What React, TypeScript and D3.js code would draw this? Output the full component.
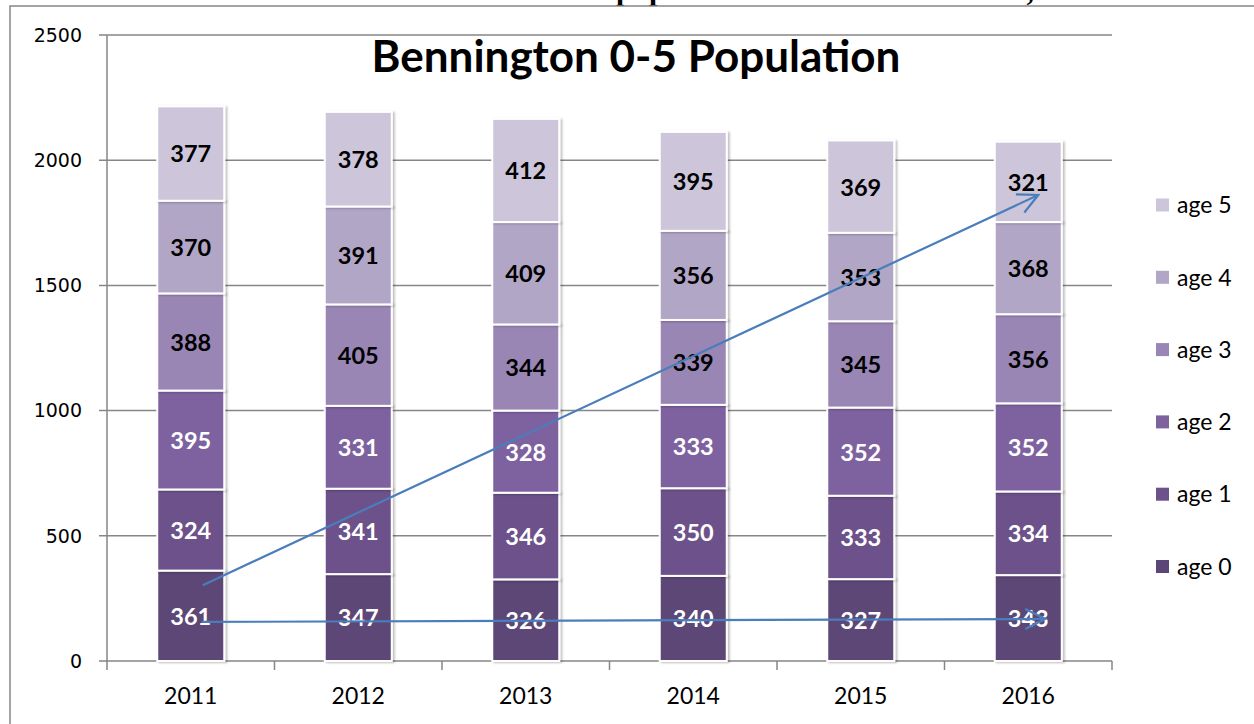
import * as d3 from "d3";
import { useEffect, useRef } from "react";

const years = ["2011", "2012", "2013", "2014", "2015", "2016"];
const age0 = [361, 347, 326, 340, 327, 343];
const age1 = [324, 341, 346, 350, 333, 334];
const age2 = [395, 331, 328, 333, 352, 352];
const age3 = [388, 405, 344, 339, 345, 356];
const age4 = [370, 391, 409, 356, 353, 368];
const age5 = [377, 378, 412, 395, 369, 321];
const seriesNames = ["age 0", "age 1", "age 2", "age 3", "age 4", "age 5"];
const seriesValues = [age0, age1, age2, age3, age4, age5];
const colors = ["#5c4677", "#6c518a", "#7e62a0", "#9a86b5", "#b2a6c7", "#cdc5da"];
const labelColors = ["#fff", "#fff", "#fff", "#000", "#000", "#000"];
const yTicks = [0, 500, 1000, 1500, 2000, 2500];

// hand-drawn arrows on top of the chart: [year, offset px, value]
const arrows = [
  { from: ["2011", 12, 303], to: ["2016", 10, 1861] },
  { from: ["2011", 11, 156], to: ["2016", 17, 168] },
];

const App = () => {
  const svgRef = useRef(null);

  useEffect(() => {
    const svg = d3.select(svgRef.current);
    svg.selectAll("*").remove();

    const x = d3
      .scaleBand()
      .domain(years)
      .range([107, 1112])
      .paddingInner(0.6)
      .paddingOuter(0.3);
    const y = d3.scaleLinear().domain([0, 2500]).range([661, 35]);

    const defs = svg.append("defs");
    defs
      .append("filter")
      .attr("id", "shadow")
      .attr("x", "-20%")
      .attr("y", "-20%")
      .attr("width", "140%")
      .attr("height", "140%")
      .append("feDropShadow")
      .attr("dx", 2)
      .attr("dy", 1)
      .attr("stdDeviation", 1.2)
      .attr("flood-color", "#000")
      .attr("flood-opacity", 0.25);
    defs
      .append("marker")
      .attr("id", "arrow")
      .attr("markerUnits", "userSpaceOnUse")
      .attr("viewBox", "0 0 24 24")
      .attr("refX", 22)
      .attr("refY", 12)
      .attr("markerWidth", 24)
      .attr("markerHeight", 24)
      .attr("orient", "auto")
      .append("path")
      .attr("d", "M2,2 L22,12 L2,22")
      .attr("fill", "none")
      .attr("stroke", "#4a7ebb")
      .attr("stroke-width", 2.2);

    // cut-off text from the page above
    svg
      .append("text")
      .attr("x", 616)
      .attr("y", 0)
      .attr("font-family", "Liberation Serif")
      .attr("font-weight", "bold")
      .attr("font-size", 30)
      .attr("textLength", 418)
      .text("population of the town in 2016,");

    // outer frame
    svg
      .append("rect")
      .attr("x", 10)
      .attr("y", 6)
      .attr("width", 1260)
      .attr("height", 740)
      .attr("fill", "#fff")
      .attr("stroke", "#868686")
      .attr("stroke-width", 1.5);

    // gridlines
    svg
      .append("g")
      .selectAll("line")
      .data(yTicks.filter((d) => d > 0))
      .enter()
      .append("line")
      .attr("x1", 99)
      .attr("x2", 1112)
      .attr("y1", (d) => y(d))
      .attr("y2", (d) => y(d))
      .attr("stroke", "#868686")
      .attr("stroke-width", 1.5);

    svg
      .append("g")
      .selectAll("text")
      .data(yTicks)
      .enter()
      .append("text")
      .attr("x", 82)
      .attr("y", (d) => y(d))
      .attr("dy", "0.36em")
      .attr("text-anchor", "end")
      .attr("font-family", "DejaVu Sans")
      .attr("font-size", 19)
      .attr("fill", "#000")
      .text((d) => d);

    // axes
    svg
      .append("line")
      .attr("x1", 107)
      .attr("x2", 107)
      .attr("y1", y(2500))
      .attr("y2", y(0))
      .attr("stroke", "#868686")
      .attr("stroke-width", 1.5);
    svg
      .append("line")
      .attr("x1", 99)
      .attr("x2", 1112)
      .attr("y1", y(0))
      .attr("y2", y(0))
      .attr("stroke", "#868686")
      .attr("stroke-width", 1.5);

    const bounds = years.map((d) => x(d) - (x.step() * x.paddingInner()) / 2);
    bounds.push(1112);
    svg
      .append("g")
      .selectAll("line")
      .data(bounds)
      .enter()
      .append("line")
      .attr("x1", (d) => d)
      .attr("x2", (d) => d)
      .attr("y1", y(0))
      .attr("y2", y(0) + 9)
      .attr("stroke", "#868686")
      .attr("stroke-width", 1.5);

    svg
      .append("g")
      .selectAll("text")
      .data(years)
      .enter()
      .append("text")
      .attr("x", (d) => x(d) + x.bandwidth() / 2)
      .attr("y", 704)
      .attr("text-anchor", "middle")
      .attr("font-family", "Lato")
      .attr("font-size", 23)
      .attr("fill", "#000")
      .text((d) => d);

    // stacked bars
    const table = years.map((yr, i) => {
      const row = { year: yr };
      seriesNames.forEach((s, k) => (row[s] = seriesValues[k][i]));
      return row;
    });
    const stacked = d3.stack().keys(seriesNames)(table);

    const layers = svg
      .append("g")
      .selectAll(".layer")
      .data(stacked)
      .enter()
      .append("g")
      .attr("class", "layer")
      .attr("fill", (d, i) => colors[i]);

    layers
      .selectAll("rect")
      .data((d) => d)
      .enter()
      .append("rect")
      .attr("x", (d) => x(d.data.year))
      .attr("y", (d) => y(d[1]))
      .attr("width", x.bandwidth())
      .attr("height", (d) => y(d[0]) - y(d[1]))
      .attr("stroke", "#fff")
      .attr("stroke-width", 2)
      .attr("filter", "url(#shadow)");

    layers
      .selectAll("text")
      .data((d, i) => d.map((p) => ({ p, i })))
      .enter()
      .append("text")
      .attr("x", (d) => x(d.p.data.year) + x.bandwidth() / 2)
      .attr("y", (d) => y((d.p[0] + d.p[1]) / 2))
      .attr("dy", "0.38em")
      .attr("text-anchor", "middle")
      .attr("font-family", "Lato")
      .attr("font-weight", "bold")
      .attr("font-size", 23.5)
      .attr("fill", (d) => labelColors[d.i])
      .text((d) => d.p[1] - d.p[0]);

    // title
    svg
      .append("text")
      .attr("x", 636)
      .attr("y", 72)
      .attr("text-anchor", "middle")
      .attr("font-family", "Lato")
      .attr("font-weight", "bold")
      .attr("font-size", 44)
      .attr("fill", "#000")
      .text("Bennington 0-5 Population");

    // legend
    const legend = svg
      .append("g")
      .selectAll("g")
      .data(seriesNames.slice().reverse())
      .enter()
      .append("g")
      .attr("transform", (d, i) => `translate(1156, ${205 + i * 72.3})`);
    legend
      .append("rect")
      .attr("x", 0)
      .attr("y", -6.5)
      .attr("width", 13)
      .attr("height", 13)
      .attr("fill", (d) => colors[seriesNames.indexOf(d)]);
    legend
      .append("text")
      .attr("x", 21)
      .attr("y", 0)
      .attr("dy", "0.36em")
      .attr("font-family", "Lato")
      .attr("font-size", 23)
      .attr("fill", "#000")
      .text((d) => d);

    // arrows
    const px = (a) => x(a[0]) + x.bandwidth() / 2 + a[1];
    svg
      .append("g")
      .selectAll("line")
      .data(arrows)
      .enter()
      .append("line")
      .attr("x1", (d) => px(d.from))
      .attr("y1", (d) => y(d.from[2]))
      .attr("x2", (d) => px(d.to))
      .attr("y2", (d) => y(d.to[2]))
      .attr("stroke", "#4a7ebb")
      .attr("stroke-width", 2.2)
      .attr("marker-end", "url(#arrow)");
  }, []);

  return (
    <svg
      ref={svgRef}
      width={1254}
      height={724}
      style={{ position: "absolute", left: 0, top: 0, background: "#fff" }}
    ></svg>
  );
};

export default App;
